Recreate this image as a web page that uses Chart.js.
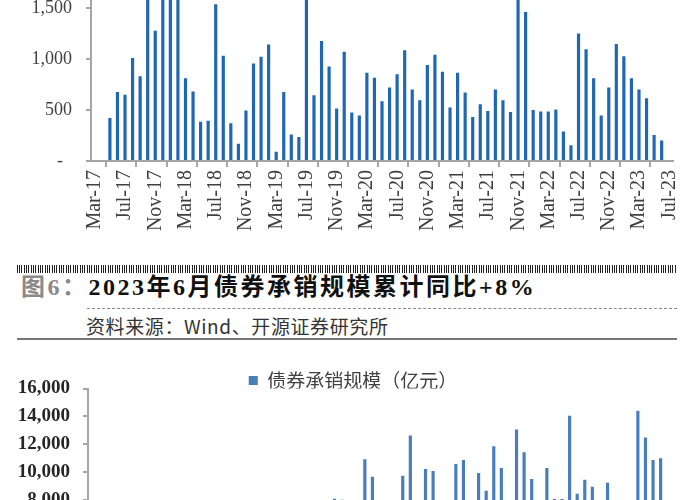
<!DOCTYPE html>
<html>
<head>
<meta charset="utf-8">
<script src="https://cdn.jsdelivr.net/npm/chart.js@4.4.0/dist/chart.umd.min.js"></script>
<style>
  html, body { margin: 0; padding: 0; background: #fff; width: 700px; height: 500px; overflow: hidden; position: relative; }
  #topBox { position: absolute; left: 0; top: -68px; width: 700px; height: 318px; }
  #botBox { position: absolute; left: 0; top: 361px; width: 700px; height: 339px; }
  .barcode { position: absolute; left: 17px; top: 265px; width: 660px; height: 8px;
    background: repeating-linear-gradient(to right, #222 0 1px, transparent 1px 2px, #222 2px 3px, transparent 3px 4px, #222 4px 5px, transparent 5px 7px); }
  .title { position: absolute; left: 21px; top: 267px; line-height: 24px; font: bold 24px "Liberation Serif", "Noto Sans CJK SC"; letter-spacing: 2.5px; color: #111; white-space: nowrap; }
  .title .fig { color: #8a8a8a; }
  .dash { position: absolute; left: 87px; top: 308px; width: 590px; border-top: 1px dashed #888; }
  .source { position: absolute; left: 86px; top: 312px; line-height: 19px; font: 19px "Noto Sans CJK SC"; letter-spacing: 0.6px; color: #333; white-space: nowrap; }
  .rule { position: absolute; left: 17px; top: 338px; width: 660px; border-top: 2px solid #777; }
</style>
</head>
<body>
<div id="topBox"><canvas id="topChart"></canvas></div>
<div class="barcode"></div>
<div class="title"><span class="fig">图6：</span>2023年6月债券承销规模累计同比+8%</div>
<div class="dash"></div>
<div class="source">资料来源：Wind、开源证券研究所</div>
<div class="rule"></div>
<div id="botBox"><canvas id="botChart"></canvas></div>
<script>
// months on the x axis (bars sit in the middle of each month)
var months = [
  'Mar-17', 'Apr-17', 'May-17', 'Jun-17', 'Jul-17', 'Aug-17', 'Sep-17', 'Oct-17', 'Nov-17', 'Dec-17',
  'Jan-18', 'Feb-18', 'Mar-18', 'Apr-18', 'May-18', 'Jun-18', 'Jul-18', 'Aug-18', 'Sep-18', 'Oct-18', 'Nov-18', 'Dec-18',
  'Jan-19', 'Feb-19', 'Mar-19', 'Apr-19', 'May-19', 'Jun-19', 'Jul-19', 'Aug-19', 'Sep-19', 'Oct-19', 'Nov-19', 'Dec-19',
  'Jan-20', 'Feb-20', 'Mar-20', 'Apr-20', 'May-20', 'Jun-20', 'Jul-20', 'Aug-20', 'Sep-20', 'Oct-20', 'Nov-20', 'Dec-20',
  'Jan-21', 'Feb-21', 'Mar-21', 'Apr-21', 'May-21', 'Jun-21', 'Jul-21', 'Aug-21', 'Sep-21', 'Oct-21', 'Nov-21', 'Dec-21',
  'Jan-22', 'Feb-22', 'Mar-22', 'Apr-22', 'May-22', 'Jun-22', 'Jul-22', 'Aug-22', 'Sep-22', 'Oct-22', 'Nov-22', 'Dec-22',
  'Jan-23', 'Feb-23', 'Mar-23', 'Apr-23', 'May-23', 'Jun-23'
];

var tickLabels = [
  'Mar-17', 'Jul-17', 'Nov-17', 'Mar-18', 'Jul-18', 'Nov-18', 'Mar-19', 'Jul-19', 'Nov-19', 'Mar-20',
  'Jul-20', 'Nov-20', 'Mar-21', 'Jul-21', 'Nov-21', 'Mar-22', 'Jul-22', 'Nov-22', 'Mar-23', 'Jul-23'
];

// upper chart (cut off at the top of the page)
var topValues = [
  null, null, 420, 675, 650, 1010, 830, 1900, 1275, 2000,
  1800, 1700, 810, 680, 385, 395, 1535, 1030, 370, 170, 495, 955,
  1020, 1140, 90, 675, 260, 235, 1800, 645, 1175, 925, 515, 1070,
  475, 445, 865, 815, 585, 720, 850, 1085, 700, 595, 940, 1040,
  875, 525, 865, 670, 430, 555, 490, 700, 595, 480, 1650, 1460,
  500, 485, 485, 505, 290, 155, 1250, 1095, 810, 445, 720, 1145,
  1025, 810, 700, 615, 255, 200
];

// 债券承销规模（亿元）, lower chart (cut off at the bottom of the page)
var underwriting = [
  4200, 4800, 5600, 5300, 5900, 5100, 4700, 5800, 6100, 5400,
  3900, 4100, 6300, 5200, 5700, 6600, 5900, 6200, 6900, 6100, 6500, 7200,
  5400, 4300, 7600, 6400, 6800, 7500, 6700, 6900, 7300, 6600, 8080, 8000,
  6200, 5600, 10920, 9650, 7400, 7700, 7200, 9720, 12620, 6900, 10210, 10070,
  7600, 6300, 10570, 10850, 7800, 9930, 8650, 11840, 10280, 7300, 13050, 11420,
  9500, 6700, 10280, 8050, 8050, 14040, 8440, 9430, 8940, 6800, 9220, 7400,
  7700, 6900, 14400, 12480, 10850, 10990
];

var axisGray = '#a6a6a6';

function points(values) {
  return months.map(function (m, i) { return { x: i + 0.5, y: values[i] }; });
}

function monthAxis() {
  return {
    type: 'linear', min: 0, max: months.length + 1, offset: false,
    grid: { drawOnChartArea: false, tickLength: 6, color: axisGray, lineWidth: 2 },
    border: { color: axisGray, width: 2 },
    ticks: {
      stepSize: 4, includeBounds: false, autoSkip: false,
      maxRotation: 90, minRotation: 90, labelOffset: 4, padding: 3,
      color: '#404040', font: { family: 'Liberation Serif', size: 20 },
      callback: function (v) { return tickLabels[v / 4]; }
    },
    afterFit: function (s) { s.height = 89; }
  };
}

// legend sits right on top of the plot and a bit right of the page centre
var tightLegend = {
  id: 'tightLegend',
  beforeLayout: function (chart) {
    var lg = chart.legend;
    if (lg && !lg.tight) {
      var fit = lg.fit;
      lg.fit = function () { fit.call(this); this.height -= 11.5; };
      lg.tight = true;
    }
  },
  afterLayout: function (chart) {
    chart.legend.left += 17;
    chart.legend.right += 17;
  }
};

new Chart('topChart', {
  type: 'bar',
  data: {
    datasets: [{
      data: points(topValues),
      backgroundColor: '#1f66b3',
      barPercentage: 0.42,
      categoryPercentage: 1
    }]
  },
  options: {
    animation: false,
    responsive: true,
    maintainAspectRatio: false,
    layout: { padding: { top: 8, right: 27, bottom: 0, left: 0 } },
    plugins: { legend: { display: false }, tooltip: { enabled: false } },
    scales: {
      x: monthAxis(),
      y: {
        min: 0, max: 2000,
        grid: { drawOnChartArea: false, tickLength: 5, color: axisGray, lineWidth: 2 },
        border: { color: axisGray, width: 2 },
        ticks: {
          stepSize: 500, padding: 14, color: '#404040',
          font: { family: 'Liberation Serif', size: 18 },
          callback: function (v) { return v === 0 ? '-  ' : v.toLocaleString('en-US'); }
        },
        afterFit: function (s) { s.width = 91; }
      }
    }
  }
});

new Chart('botChart', {
  type: 'bar',
  data: {
    datasets: [{
      label: '债券承销规模（亿元）',
      data: points(underwriting),
      backgroundColor: '#4a7ebb',
      borderWidth: 0,
      barPercentage: 0.42,
      categoryPercentage: 1
    }]
  },
  options: {
    animation: false,
    responsive: true,
    maintainAspectRatio: false,
    layout: { padding: { top: 4, right: 28, bottom: 0, left: 0 } },
    plugins: {
      legend: {
        display: true, position: 'top',
        labels: { boxWidth: 9, boxHeight: 9, padding: 6, color: '#404040', font: { family: 'Noto Sans CJK SC', size: 19 } }
      },
      tooltip: { enabled: false }
    },
    scales: {
      x: monthAxis(),
      y: {
        min: 0, max: 16000,
        grid: { drawOnChartArea: false, tickLength: 5, color: axisGray, lineWidth: 2 },
        border: { color: axisGray, width: 2 },
        ticks: {
          stepSize: 2000, padding: 13, color: '#262626',
          font: { family: 'Liberation Serif', size: 19, weight: 'bold' },
          callback: function (v) { return v.toLocaleString('en-US'); }
        },
        afterFit: function (s) { s.width = 88; }
      }
    }
  },
  plugins: [tightLegend]
});
</script>
</body>
</html>
